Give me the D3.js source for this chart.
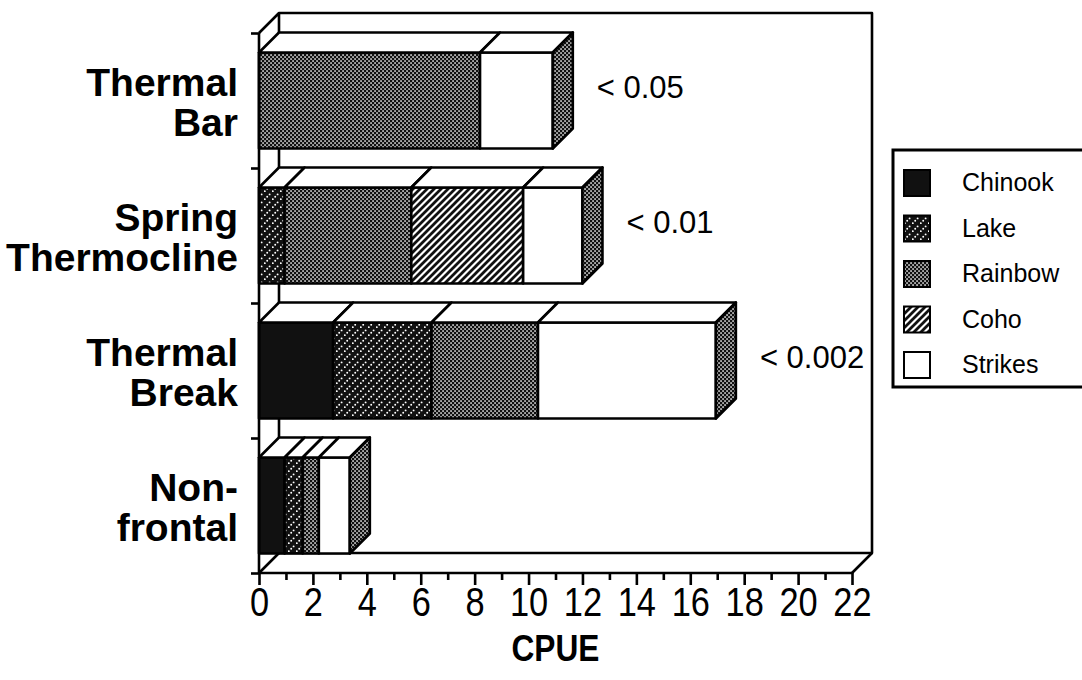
<!DOCTYPE html>
<html>
<head>
<meta charset="utf-8">
<script src="https://cdn.jsdelivr.net/npm/d3@7"></script>
<style>
  html, body { margin: 0; padding: 0; background: #fff; }
  svg { display: block; font-family: "Liberation Sans", Arial, Helvetica, sans-serif; }
</style>
</head>
<body>
<svg id="chart" width="1082" height="680"></svg>
<script>
// Catch per unit effort by frontal zone, stacked by salmonid species
const categories = ["Thermal Bar", "Spring Thermocline", "Thermal Break", "Non-frontal"];
const categoryLines = [["Thermal", "Bar"], ["Spring", "Thermocline"], ["Thermal", "Break"], ["Non-", "frontal"]];
const species = ["Chinook", "Lake", "Rainbow", "Coho", "Strikes"];
const chinook = [0, 0, 2.75, 0.95];
const lake    = [0, 0.95, 3.65, 0.67];
const rainbow = [8.2, 4.7, 3.95, 0.6];
const coho    = [0, 4.15, 0, 0];
const strikes = [2.7, 2.2, 6.6, 1.15];
const pLabels = ["< 0.05", "< 0.01", "< 0.002", ""];
const xTicks = [0, 2, 4, 6, 8, 10, 12, 14, 16, 18, 20, 22];

const seriesValues = [chinook, lake, rainbow, coho, strikes];
const rows = categories.map((c, i) => {
  const r = { category: c };
  species.forEach((s, j) => { r[s] = seriesValues[j][i]; });
  return r;
});

const svg = d3.select("#chart");
const depth = 20;              // oblique offset of the 3-D box (right / up)
const plotLeft = 259, plotRight = 852, plotTop = 33, plotBottom = 573;

const x = d3.scaleLinear().domain([0, 22]).range([plotLeft, plotRight]);
const y = d3.scaleBand().domain(categories).range([plotTop, plotBottom]).paddingInner(0).paddingOuter(0);
const barH = 96;

// fill patterns
const defs = svg.append("defs");
const pat = (id, w, h) => defs.append("pattern").attr("id", id)
  .attr("patternUnits", "userSpaceOnUse").attr("width", w).attr("height", h);

// Rainbow: dense white-dot screen on black
const pr = pat("pRainbow", 4, 4);
pr.append("rect").attr("width", 4).attr("height", 4).attr("fill", "#111");
pr.append("rect").attr("x", 0.3).attr("y", 0.3).attr("width", 1.5).attr("height", 1.5).attr("fill", "#fff");
pr.append("rect").attr("x", 2.3).attr("y", 2.3).attr("width", 1.5).attr("height", 1.5).attr("fill", "#fff");

// Lake: dotted white diagonals on black
const pl = pat("pLake", 8, 8);
pl.append("rect").attr("width", 8).attr("height", 8).attr("fill", "#111");
[[0.8, 7.2], [3.2, 4.8], [5.6, 2.4]].forEach(([cx, cy]) =>
  pl.append("circle").attr("cx", cx).attr("cy", cy).attr("r", 0.95).attr("fill", "#fff"));

// Coho: black / white diagonal stripes
const pc = pat("pCoho", 7, 7);
pc.append("rect").attr("width", 7).attr("height", 7).attr("fill", "#fff");
pc.append("path").attr("d", "M-2,9 L9,-2 M-2,2 L2,-2 M5,9 L9,5")
  .attr("stroke", "#111").attr("stroke-width", 2.8);

const fills = {
  Chinook: "#111",
  Lake: "url(#pLake)",
  Rainbow: "url(#pRainbow)",
  Coho: "url(#pCoho)",
  Strikes: "#fff"
};

const lineW = 2.6;

// 3-D frame: back wall, left wall and floor
const frame = svg.append("g").attr("fill", "none").attr("stroke", "#000")
  .attr("stroke-width", lineW).attr("stroke-linejoin", "round");
frame.append("path").attr("d",
  `M${plotLeft},${plotTop} L${plotLeft + depth},${plotTop - depth} L${plotRight + depth},${plotTop - depth}` +
  ` L${plotRight + depth},${plotBottom - depth} L${plotLeft + depth},${plotBottom - depth}` +
  ` L${plotLeft + depth},${plotTop - depth}`);
frame.append("path").attr("d",
  `M${plotLeft},${plotBottom} L${plotLeft + depth},${plotBottom - depth}` +
  ` M${plotRight},${plotBottom} L${plotRight + depth},${plotBottom - depth}`);

// stacked 3-D bars
const stack = d3.stack().keys(species)(rows);
const bars = svg.append("g").attr("stroke", "#000").attr("stroke-width", lineW).attr("stroke-linejoin", "round");

categories.forEach((cat, i) => {
  const yc = y(cat) + y.bandwidth() / 2;
  const yt = yc - barH / 2, yb = yc + barH / 2;
  const g = bars.append("g");
  const segs = stack.map(s => ({ key: s.key, x0: s[i][0], x1: s[i][1] })).filter(d => d.x1 > d.x0);
  const total = d3.max(segs, d => d.x1);

  // front faces
  g.selectAll("rect.front").data(segs).join("rect").attr("class", "front")
    .attr("x", d => x(d.x0)).attr("y", yt)
    .attr("width", d => x(d.x1) - x(d.x0)).attr("height", barH)
    .attr("fill", d => fills[d.key]);

  // top faces
  g.selectAll("path.top").data(segs).join("path").attr("class", "top")
    .attr("d", d => `M${x(d.x0)},${yt} L${x(d.x1)},${yt} L${x(d.x1) + depth},${yt - depth} L${x(d.x0) + depth},${yt - depth}Z`)
    .attr("fill", "#fff");

  // end face
  g.append("path")
    .attr("d", `M${x(total)},${yt} L${x(total) + depth},${yt - depth} L${x(total) + depth},${yb - depth} L${x(total)},${yb}Z`)
    .attr("fill", "url(#pRainbow)");

  if (pLabels[i]) {
    svg.append("text").attr("x", x(total) + depth + 24).attr("y", yc - 3)
      .attr("font-size", 31).attr("fill", "#000").text(pLabels[i]);
  }
});

// category axis (left) with ticks on band boundaries
const yEdges = d3.scaleLinear().domain([0, categories.length]).range([plotTop, plotBottom]);
const leftAxis = svg.append("g").attr("transform", `translate(${plotLeft},0)`)
  .call(d3.axisLeft(yEdges).tickValues(d3.range(0, categories.length + 1)).tickSize(8).tickFormat(""));
leftAxis.selectAll("path, line").attr("stroke", "#000").attr("stroke-width", lineW);
leftAxis.select(".domain").attr("d", `M0,${plotTop}V${plotBottom}`);

// category labels
categories.forEach((cat, i) => {
  const yc = y(cat) + y.bandwidth() / 2;
  const t = svg.append("text").attr("text-anchor", "end").attr("font-weight", "bold")
    .attr("font-size", 39).attr("fill", "#000");
  categoryLines[i].forEach((ln, k) => {
    t.append("tspan").attr("x", 238).attr("y", yc - 5 + k * 40).text(ln);
  });
});

// value axis (bottom): long ticks with labels on even, short ticks on odd units
const bottom = svg.append("g").attr("transform", `translate(0,${plotBottom})`);
const major = bottom.append("g").call(d3.axisBottom(x).tickValues(xTicks).tickSize(12).tickPadding(2).tickFormat(d3.format("d")));
major.select(".domain").attr("d", `M${plotLeft},0H${plotRight}`);
const minor = bottom.append("g").call(d3.axisBottom(x).tickValues(d3.range(1, 22, 2)).tickSize(7).tickFormat(""));
minor.select(".domain").remove();
bottom.selectAll("path, line").attr("stroke", "#000").attr("stroke-width", lineW);
// slightly condensed tick digits
major.selectAll("text").attr("font-size", 40).attr("fill", "#000")
  .attr("font-family", "'Liberation Sans', Arial, sans-serif").attr("dy", "0.72em")
  .attr("transform", "scale(0.86,1)");

svg.append("text").attr("x", x(11)).attr("y", 661).attr("text-anchor", "middle")
  .attr("font-weight", "bold").attr("font-size", 37).attr("fill", "#000")
  .attr("textLength", 88).attr("lengthAdjust", "spacingAndGlyphs").text("CPUE");

// legend
const lg = svg.append("g");
lg.append("rect").attr("x", 893).attr("y", 150).attr("width", 200).attr("height", 237)
  .attr("fill", "#fff").attr("stroke", "#000").attr("stroke-width", 3);
species.forEach((s, k) => {
  const yy = 170 + k * 45.5;
  lg.append("rect").attr("x", 904).attr("y", yy).attr("width", 26).attr("height", 26)
    .attr("fill", fills[s]).attr("stroke", "#000").attr("stroke-width", 2);
  lg.append("text").attr("x", 962).attr("y", yy + 21).attr("font-size", 25).attr("fill", "#000").text(s);
});
</script>
</body>
</html>
